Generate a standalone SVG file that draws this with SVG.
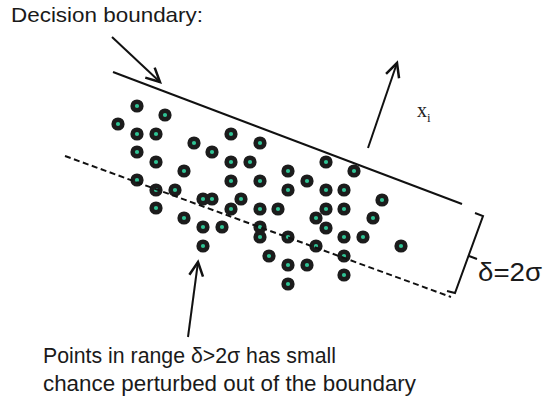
<svg xmlns="http://www.w3.org/2000/svg" xmlns:xlink="http://www.w3.org/1999/xlink" width="544" height="403" viewBox="0 0 544 403">
<style>
.lbl{font-family:"Liberation Sans","Noto Sans",sans-serif;fill:#1a1a1a}
.ln{stroke:#111;stroke-width:2;fill:none}
.dash{stroke:#111;stroke-width:2;fill:none;stroke-dasharray:6 3.5}
.outer{fill:#1c1c1c}
.inner{fill:#2fc394}
</style>
<defs>
<marker id="ah" markerUnits="userSpaceOnUse" markerWidth="20" markerHeight="20" refX="0" refY="0" viewBox="-12 -8 14 16" orient="auto" overflow="visible">
<path d="M-11,-5.5 L0,0 L-11,5.5" fill="none" stroke="#111" stroke-width="2" stroke-linejoin="miter"/>
</marker>
<g id="pt"><circle class="outer" r="6.6"/><circle class="inner" r="2.1"/></g>
</defs>
<rect width="544" height="403" fill="#fff"/>
<g id="title"><text class="lbl" x="11" y="22" font-size="21" textLength="192" lengthAdjust="spacingAndGlyphs">Decision boundary:</text></g>
<g id="connectors">
<line class="ln" x1="113" y1="72" x2="462" y2="204"/>
<line class="ln" x1="112" y1="37" x2="160" y2="82" marker-end="url(#ah)"/>
<line class="ln" x1="368" y1="148" x2="397" y2="63" marker-end="url(#ah)"/>
<line class="ln" x1="188" y1="337" x2="198" y2="262" marker-end="url(#ah)"/>
<path class="ln" d="M475,213 L483,216 L455,293 L447,291 M469,256 L477,259"/>
</g>
<g id="points">
<use xlink:href="#pt" x="137" y="106"/>
<use xlink:href="#pt" x="165" y="115"/>
<use xlink:href="#pt" x="118" y="124"/>
<use xlink:href="#pt" x="137" y="134"/>
<use xlink:href="#pt" x="156" y="134"/>
<use xlink:href="#pt" x="194" y="143"/>
<use xlink:href="#pt" x="231" y="134"/>
<use xlink:href="#pt" x="260" y="143"/>
<use xlink:href="#pt" x="137" y="152"/>
<use xlink:href="#pt" x="212" y="152"/>
<use xlink:href="#pt" x="156" y="162"/>
<use xlink:href="#pt" x="231" y="162"/>
<use xlink:href="#pt" x="250" y="162"/>
<use xlink:href="#pt" x="184" y="171"/>
<use xlink:href="#pt" x="288" y="171"/>
<use xlink:href="#pt" x="326" y="162"/>
<use xlink:href="#pt" x="354" y="171"/>
<use xlink:href="#pt" x="137" y="180"/>
<use xlink:href="#pt" x="231" y="181"/>
<use xlink:href="#pt" x="260" y="181"/>
<use xlink:href="#pt" x="307" y="181"/>
<use xlink:href="#pt" x="156" y="190"/>
<use xlink:href="#pt" x="175" y="190"/>
<use xlink:href="#pt" x="288" y="190"/>
<use xlink:href="#pt" x="326" y="190"/>
<use xlink:href="#pt" x="344" y="190"/>
<use xlink:href="#pt" x="382" y="200"/>
<use xlink:href="#pt" x="203" y="199"/>
<use xlink:href="#pt" x="212" y="199"/>
<use xlink:href="#pt" x="241" y="199"/>
<use xlink:href="#pt" x="156" y="208"/>
<use xlink:href="#pt" x="231" y="209"/>
<use xlink:href="#pt" x="260" y="209"/>
<use xlink:href="#pt" x="278" y="209"/>
<use xlink:href="#pt" x="326" y="209"/>
<use xlink:href="#pt" x="344" y="209"/>
<use xlink:href="#pt" x="184" y="218"/>
<use xlink:href="#pt" x="316" y="218"/>
<use xlink:href="#pt" x="373" y="218"/>
<use xlink:href="#pt" x="203" y="227"/>
<use xlink:href="#pt" x="222" y="227"/>
<use xlink:href="#pt" x="260" y="227"/>
<use xlink:href="#pt" x="326" y="228"/>
<use xlink:href="#pt" x="260" y="237"/>
<use xlink:href="#pt" x="288" y="237"/>
<use xlink:href="#pt" x="344" y="237"/>
<use xlink:href="#pt" x="363" y="237"/>
<use xlink:href="#pt" x="203" y="246"/>
<use xlink:href="#pt" x="316" y="246"/>
<use xlink:href="#pt" x="401" y="246"/>
<use xlink:href="#pt" x="269" y="256"/>
<use xlink:href="#pt" x="344" y="256"/>
<use xlink:href="#pt" x="288" y="265"/>
<use xlink:href="#pt" x="307" y="265"/>
<use xlink:href="#pt" x="344" y="275"/>
<use xlink:href="#pt" x="288" y="284"/>
</g>
<g id="margin-line"><line class="dash" x1="65" y1="156" x2="451" y2="297"/></g>
<g id="xi-label"><text x="417" y="117" font-family="'Liberation Serif',serif" font-size="20" fill="#222">x<tspan font-size="13" dy="5">i</tspan></text></g>
<g id="delta-label"><text class="lbl" x="478" y="281" font-size="26" textLength="64" lengthAdjust="spacingAndGlyphs">δ=2σ</text></g>
<g id="note">
<text class="lbl" x="43" y="363" font-size="21.5" textLength="293" lengthAdjust="spacingAndGlyphs">Points in range δ&gt;2σ has small</text>
<text class="lbl" x="43" y="391" font-size="21.5" textLength="373" lengthAdjust="spacingAndGlyphs">chance perturbed out of the boundary</text>
</g>
</svg>
